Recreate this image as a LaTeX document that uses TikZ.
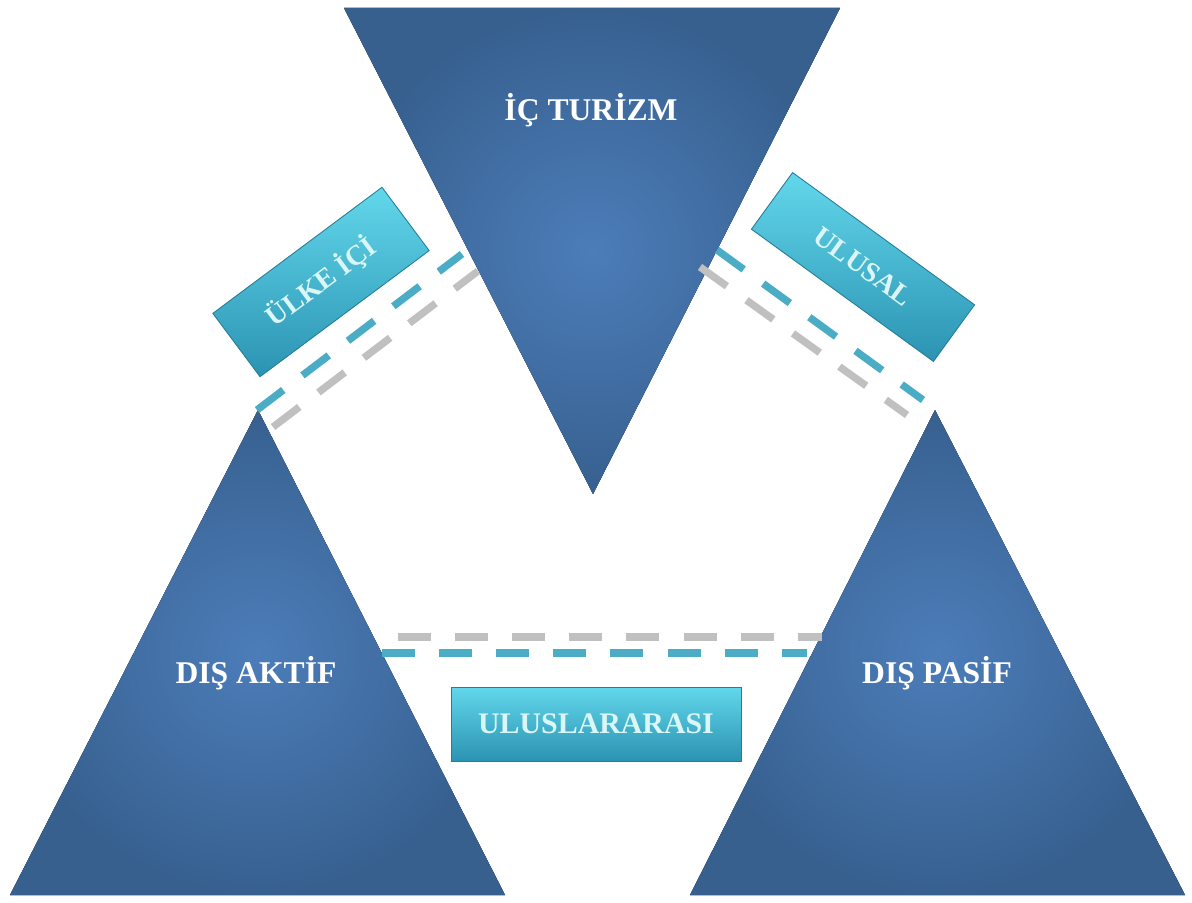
\documentclass[tikz,border=0pt]{standalone}
\usepackage{fontspec}
\setmainfont{Liberation Serif}
\usepackage{tikz}
\usetikzlibrary{calc}

\definecolor{trimid}{HTML}{4C7DB9}
\definecolor{triedge}{HTML}{37608F}
\definecolor{trishadow}{HTML}{223C63}
\definecolor{tagtop}{HTML}{62D7EB}
\definecolor{tagmid}{HTML}{3AB2D5}
\definecolor{tagbot}{HTML}{2B93B2}
\definecolor{tagtext}{HTML}{DAF6F6}
\definecolor{linkteal}{HTML}{4BACC6}
\definecolor{linkgray}{HTML}{C0C0C0}

\tikzset{
	tri/.style={inner color=trimid, outer color=triedge},
	trilabel/.style={text=white, font=\bfseries\fontsize{18}{20}\selectfont},
	tag/.style={rectangle, top color=tagtop, middle color=tagmid, bottom color=tagbot, draw=tagbot!85!black, line width=0.5pt, text=tagtext, font=\bfseries\fontsize{16}{18}\selectfont, inner sep=0pt},
	link/.style={line width=4.2pt, dash pattern=on 18.8pt off 13.7pt},
}

\begin{document}
\begin{tikzpicture}[x=0.02cm,y=-0.02cm]
	\useasboundingbox (0,0) rectangle (1192,902);
	\coordinate (ic-l) at (344,8);
	\coordinate (ic-r) at (840,8);
	\coordinate (ic-b) at (593,494);
	\coordinate (da-t) at (258,410);
	\coordinate (da-l) at (10,895);
	\coordinate (da-r) at (505,895);
	\coordinate (dp-t) at (935,410);
	\coordinate (dp-l) at (690,895);
	\coordinate (dp-r) at (1185,895);
	\foreach \a/\b/\c in {ic-l/ic-b/ic-r, da-t/da-l/da-r, dp-t/dp-l/dp-r}
	{
		\fill[black, xshift=-1pt] (\a) -- (\b) -- (\c) -- cycle;
		\fill[trishadow, xshift=2.5pt, yshift=-1pt] (\a) -- (\b) -- (\c) -- cycle;
		\shade[tri] (\a) -- (\b) -- (\c) -- cycle;
	}
	\node[trilabel] (ic) at (591,110) {İÇ TURİZM};
	\node[trilabel] (da) at (256,673) {DIŞ AKTİF};
	\node[trilabel] (dp) at (937,673) {DIŞ PASİF};

	\coordinate (lt-a) at (257,410);
	\coordinate (lt-b) at (462,254);
	\coordinate (lg-a) at (273,427);
	\coordinate (lg-b) at (478,271);
	\coordinate (rt-a) at (717,250);
	\coordinate (rt-b) at (923,400);
	\coordinate (rg-a) at (700,267);
	\coordinate (rg-b) at (907,415);
	\coordinate (bg-a) at (398,637);
	\coordinate (bg-b) at (822,637);
	\coordinate (bt-a) at (382,653);
	\coordinate (bt-b) at (807,653);
	\draw[link, linkteal] (lt-a) -- (lt-b);
	\draw[link, linkgray] (lg-a) -- (lg-b);
	\draw[link, linkteal] (rt-a) -- (rt-b);
	\draw[link, linkgray] (rg-a) -- (rg-b);
	\draw[link, linkgray] (bg-a) -- (bg-b);
	\draw[link, linkteal] (bt-a) -- (bt-b);

	\node[tag, rotate=36.7, minimum width=4.22cm, minimum height=1.58cm] (ulkeici) at (321,282) {ÜLKE İÇİ};
	\node[tag, rotate=-36, minimum width=4.5cm, minimum height=1.4cm] (ulusal) at (863,267) {ULUSAL};
	\node[tag, minimum width=5.8cm, minimum height=1.48cm, font=\bfseries\fontsize{17}{19}\selectfont] (uluslararasi) at (596,724) {ULUSLARARASI};
\end{tikzpicture}
\end{document}
